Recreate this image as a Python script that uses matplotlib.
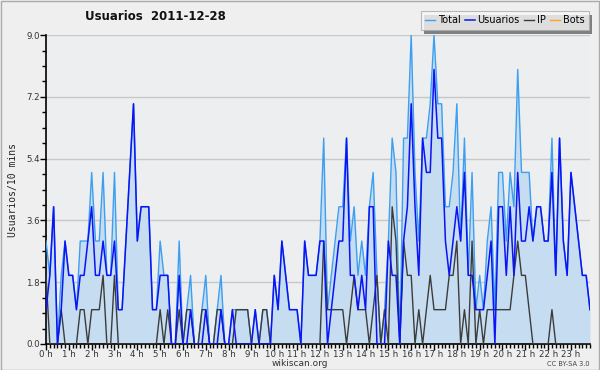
import matplotlib
matplotlib.use("Agg")
import matplotlib.pyplot as plt
from matplotlib.patches import Rectangle
import numpy as np

# 10-minute slots over the day (144 values)
total = [3, 2, 4, 0, 2, 3, 2, 2, 1, 3, 3, 3, 5, 3, 3, 5, 2, 2, 5, 1, 1, 3, 5, 7,
         3, 4, 4, 4, 1, 1, 3, 2, 2, 0, 0, 3, 0, 1, 2, 0, 0, 1, 2, 0, 0, 1, 2, 0,
         0, 1, 1, 1, 1, 1, 0, 1, 0, 1, 1, 0, 2, 1, 3, 2, 1, 1, 1, 0, 3, 2, 2, 2,
         3, 6, 1, 2, 3, 4, 4, 6, 3, 4, 2, 3, 2, 4, 5, 2, 0, 1, 3, 6, 5, 0, 6, 6,
         9, 5, 3, 6, 6, 7, 9, 7, 7, 4, 4, 5, 7, 3, 6, 2, 5, 1, 2, 1, 3, 4, 1, 5,
         5, 3, 5, 4, 8, 5, 5, 5, 3, 4, 4, 3, 3, 6, 2, 6, 3, 2, 5, 4, 3, 2, 2, 1]
usuarios = [1, 2, 4, 0, 1, 3, 2, 2, 1, 2, 2, 3, 4, 2, 2, 3, 2, 2, 3, 1, 1, 3, 5, 7,
            3, 4, 4, 4, 1, 1, 2, 2, 2, 0, 0, 2, 0, 0, 1, 0, 0, 0, 1, 0, 0, 0, 1, 0,
            0, 1, 0, 0, 0, 0, 0, 1, 0, 0, 0, 0, 2, 1, 3, 2, 1, 1, 1, 0, 3, 2, 2, 2,
            3, 3, 0, 1, 2, 3, 3, 6, 2, 2, 1, 2, 1, 4, 4, 0, 0, 0, 3, 2, 2, 0, 3, 4,
            7, 4, 2, 6, 5, 5, 8, 6, 6, 3, 2, 3, 4, 3, 5, 2, 2, 1, 1, 1, 2, 3, 0, 4,
            4, 2, 4, 2, 5, 3, 3, 4, 3, 4, 4, 3, 3, 5, 2, 6, 3, 2, 5, 4, 3, 2, 2, 1]
ip = [2, 0, 0, 0, 1, 0, 0, 0, 0, 1, 1, 0, 1, 1, 1, 2, 0, 0, 2, 0, 0, 0, 0, 0,
      0, 0, 0, 0, 0, 0, 1, 0, 1, 0, 0, 1, 0, 1, 1, 0, 0, 1, 1, 0, 0, 1, 1, 0,
      0, 0, 1, 1, 1, 1, 0, 0, 0, 1, 1, 0, 0, 0, 0, 0, 0, 0, 0, 0, 0, 0, 0, 0,
      0, 3, 1, 1, 1, 1, 1, 0, 1, 2, 1, 1, 1, 0, 1, 2, 0, 1, 0, 4, 3, 0, 3, 2,
      2, 0, 1, 0, 1, 2, 1, 1, 1, 1, 2, 2, 3, 0, 1, 0, 3, 0, 1, 0, 1, 1, 1, 1,
      1, 1, 1, 2, 3, 2, 2, 1, 0, 0, 0, 0, 0, 1, 0, 0, 0, 0, 0, 0, 0, 0, 0, 0]
bots = [0] * 144

hour_labels = ['%d h' % h for h in range(24)]
y_ticks = [0.0, 1.8, 3.6, 5.4, 7.2, 9.0]

c_total = '#3d9ff0'
c_fill = '#c6dcf0'
c_users = '#0a14f5'
c_ip = '#3c3c3c'
c_bots = '#ffa31a'

fig = plt.figure(figsize=(6, 3.7), dpi=100, facecolor='#efefef')
ax = fig.add_axes([0.0767, 0.0703, 0.9066, 0.8347])
ax.set_facecolor('#edeef0')

x = np.arange(len(total))
ax.fill_between(x, total, 0, color=c_fill, linewidth=0, zorder=1)
l_total, = ax.plot(x, total, color=c_total, lw=1.0, zorder=3)
l_bots, = ax.plot(x, bots, color=c_bots, lw=1.0, zorder=2)
l_ip, = ax.plot(x, ip, color=c_ip, lw=1.0, zorder=4)
l_users, = ax.plot(x, usuarios, color=c_users, lw=1.1, zorder=5)

ax.set_xlim(0, 143)
ax.set_ylim(0, 9)
ax.set_yticks(y_ticks)
ax.set_yticklabels(['%.1f' % v for v in y_ticks])
ax.set_yticks(np.arange(0, 9.01, 0.45), minor=True)
ax.set_xticks(np.arange(0, 144, 6))
ax.set_xticklabels(hour_labels)
ax.set_xticks(np.arange(0, 144, 1), minor=True)
ax.grid(axis='y', color='#c8c8c8', lw=1.0, zorder=0)
ax.set_axisbelow(True)

for s in ['top', 'right']:
    ax.spines[s].set_visible(False)
for s in ['left', 'bottom']:
    ax.spines[s].set_color('black')
    ax.spines[s].set_linewidth(1.2)
ax.tick_params(axis='both', which='major', labelsize=6.2, colors='black',
               labelcolor='#333333', length=4, width=1, pad=0.5)
ax.tick_params(axis='both', which='minor', length=3, width=1, colors='black')

ax.set_ylabel('Usuarios/10 mins', family='DejaVu Sans Mono', fontsize=7,
              color='#222222', labelpad=6)

fig.text(0.142, 0.955, 'Usuarios  2011-12-28', fontsize=8.5, fontweight='bold',
         color='#111111', va='center', ha='left')
fig.text(0.5, 0.017, 'wikiscan.org', fontsize=6.5, color='#333333', ha='center',
         va='center')
fig.text(0.982, 0.017, 'CC BY-SA 3.0', fontsize=4.8, color='#444444', ha='right',
         va='center')

# legend with drop shadow
leg = fig.legend([l_total, l_users, l_ip, l_bots], ['Total', 'Usuarios', 'IP', 'Bots'],
                 loc='upper right', bbox_to_anchor=(0.981, 0.97), ncol=4,
                 fontsize=7, frameon=True, fancybox=False, handlelength=1.0,
                 handletextpad=0.3, columnspacing=0.45, borderpad=0.45,
                 borderaxespad=0.0)
leg.get_frame().set_edgecolor('#aaaaaa')
leg.get_frame().set_facecolor('#f7f7f7')
leg.get_frame().set_linewidth(0.8)
leg.set_zorder(10)
fig.canvas.draw()
bb = leg.get_window_extent().transformed(fig.transFigure.inverted())
fig.add_artist(Rectangle((bb.x0 + 0.006, bb.y0 - 0.010), bb.width, bb.height,
                         transform=fig.transFigure, facecolor='#808080',
                         edgecolor='none', zorder=9))

# outer border
fig.add_artist(Rectangle((0.001, 0.001), 0.997, 0.996, transform=fig.transFigure,
                         fill=False, edgecolor='#aaaaaa', lw=1.0, zorder=11))

fig.savefig('out.png', dpi=100, facecolor=fig.get_facecolor())
